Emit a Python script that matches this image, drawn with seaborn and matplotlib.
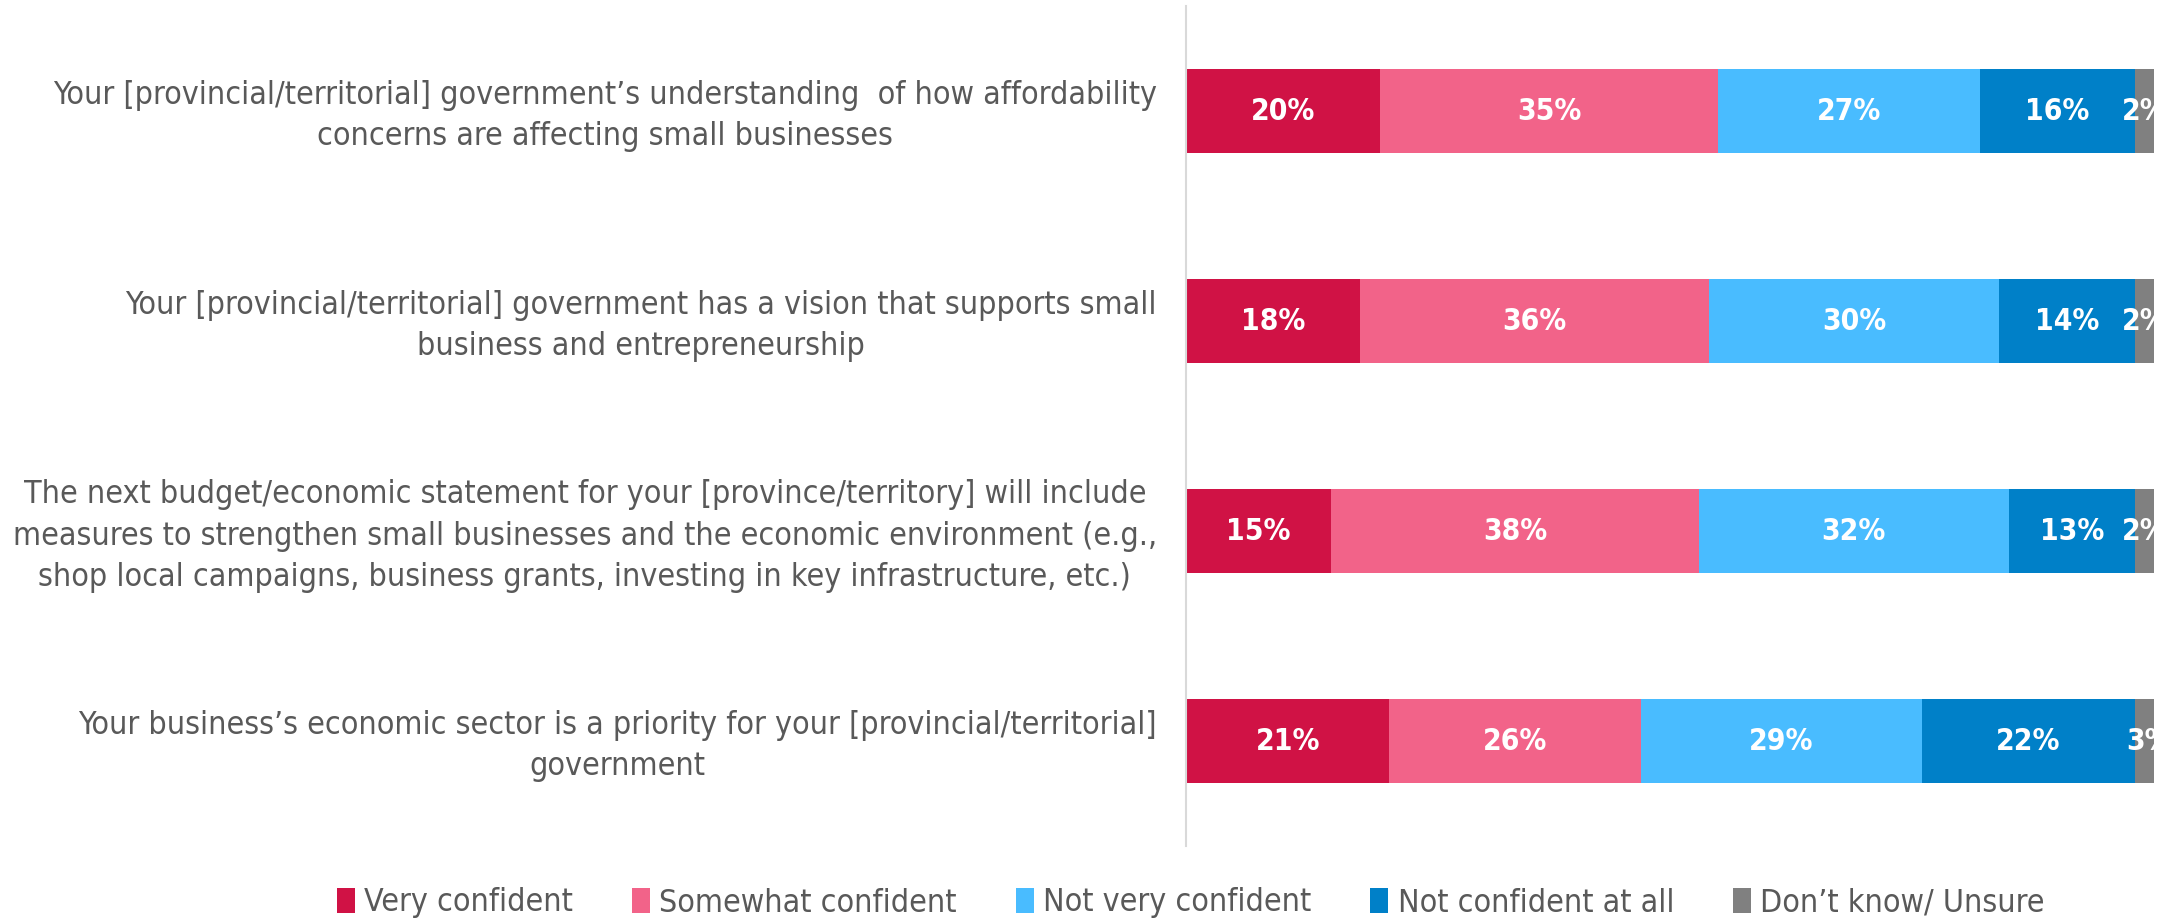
import matplotlib
matplotlib.use("Agg")
import matplotlib.pyplot as plt
import seaborn as sns
import pandas as pd
import numpy as np
from matplotlib.patches import Patch

categories = [
    "Your [provincial/territorial] government\u2019s understanding  of how affordability\nconcerns are affecting small businesses",
    "Your [provincial/territorial] government has a vision that supports small\nbusiness and entrepreneurship",
    "The next budget/economic statement for your [province/territory] will include\nmeasures to strengthen small businesses and the economic environment (e.g.,\nshop local campaigns, business grants, investing in key infrastructure, etc.)",
    "Your business\u2019s economic sector is a priority for your [provincial/territorial]\ngovernment",
]
series_names = ["Very confident", "Somewhat confident", "Not very confident",
                "Not confident at all", "Don\u2019t know/ Unsure"]
very_confident = [20, 18, 15, 21]
somewhat_confident = [35, 36, 38, 26]
not_very_confident = [27, 30, 32, 29]
not_confident_at_all = [16, 14, 13, 22]
dont_know = [2, 2, 2, 3]
colors = ["#D01245", "#F26389", "#49BCFF", "#0080C8", "#808080"]

sns.set_theme(style="white")
plt.rcParams['font.family'] = ['DejaVu Sans']
plt.rcParams['font.stretch'] = 'condensed'

series = [very_confident, somewhat_confident, not_very_confident,
          not_confident_at_all, dont_know]
df = pd.DataFrame({name: vals for name, vals in zip(series_names, series)})
df["category"] = categories
cum = df[series_names].cumsum(axis=1)

fig = plt.figure(figsize=(21.64, 9.19), dpi=100)
ax = fig.add_axes([1186 / 2164, 1 - 846 / 919, (2154 - 1186) / 2164, 840 / 919])

for i in reversed(range(len(series_names))):
    tmp = pd.DataFrame({"category": categories, "value": cum[series_names[i]].values})
    sns.barplot(data=tmp, y="category", x="value", orient="h", color=colors[i],
                width=0.4, saturation=1, ax=ax, edgecolor="none", linewidth=0)

ax.set_xlim(0, 100)
ax.set_ylim(3.5, -0.5)
ax.set_xlabel("")
ax.set_ylabel("")
ax.set_xticks([])
ax.set_yticks([])
for s in ["top", "right", "bottom"]:
    ax.spines[s].set_visible(False)
ax.spines["left"].set_color("#D9D9D9")
ax.spines["left"].set_linewidth(1.5)

for r in range(len(categories)):
    left = 0
    for i, name in enumerate(series_names):
        v = df[name].iloc[r]
        ax.text(left + v / 2, r, f"{v}%", ha="center", va="center", color="white",
                fontsize=21.5, fontweight="bold", fontstretch="condensed", clip_on=True)
        left += v
    fig.text(1157 / 2164, 1 - (116 + 210 * r) / 919, categories[r], ha="right",
             va="center", multialignment="center", fontsize=23, color="#595959",
             fontstretch="condensed", linespacing=1.43)

handles = [Patch(facecolor=c, edgecolor="none") for c in colors]
fig.legend(handles, series_names, loc="center", bbox_to_anchor=(1191 / 2164, 1 - 903 / 919),
           ncol=5, frameon=False, prop={"size": 23, "stretch": "condensed"},
           labelcolor="#595959",
           handlelength=0.55, handleheight=0.8, handletextpad=0.3, columnspacing=1.85)

fig.savefig("out.png", dpi=100)
